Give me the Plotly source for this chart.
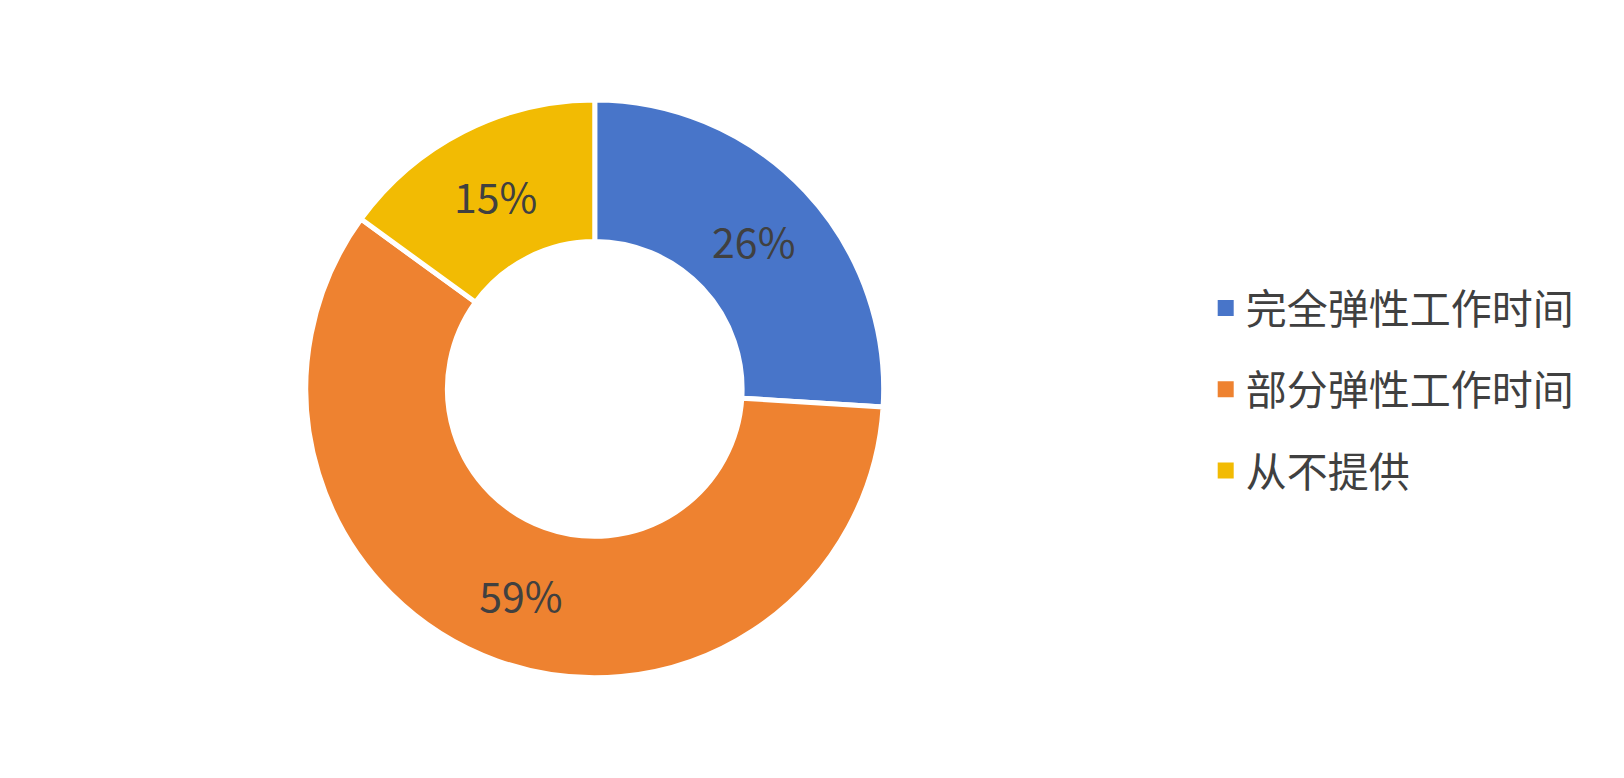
import plotly.graph_objects as go

categories = ["完全弹性工作时间", "部分弹性工作时间", "从不提供"]
values = [26, 59, 15]
colors = ["#4875C9", "#EE8230", "#F2BB03"]

fig = go.Figure()

fig.add_trace(go.Pie(
    labels=categories,
    values=values,
    hole=0.51,
    sort=False,
    direction="clockwise",
    rotation=0,
    marker=dict(colors=colors, line=dict(color="white", width=5)),
    textinfo="percent",
    texttemplate="%{percent:.0%}",
    textposition="inside",
    insidetextorientation="horizontal",
    textfont=dict(family="Noto Sans CJK SC", size=41, color="#404040"),
    domain=dict(x=[0.1834, 0.5392], y=[0.1388, 0.8820]),
    showlegend=False,
    hoverinfo="label+percent",
))

for name, c in zip(categories, colors):
    fig.add_trace(go.Scatter(
        x=[None], y=[None], mode="markers",
        marker=dict(symbol="square", size=18, color=c),
        name=name, legendgroup=name, showlegend=True,
    ))

fig.update_layout(
    width=1624, height=778,
    margin=dict(l=0, r=0, t=0, b=0),
    paper_bgcolor="white",
    plot_bgcolor="white",
    xaxis=dict(visible=False),
    yaxis=dict(visible=False),
    legend=dict(
        x=0.7375, y=0.657, xanchor="left", yanchor="top",
        font=dict(family="Noto Sans CJK SC", size=41, color="#404040"),
        tracegroupgap=25,
        itemwidth=30,
        bgcolor="rgba(0,0,0,0)",
    ),
)

fig.write_html("out.html")
